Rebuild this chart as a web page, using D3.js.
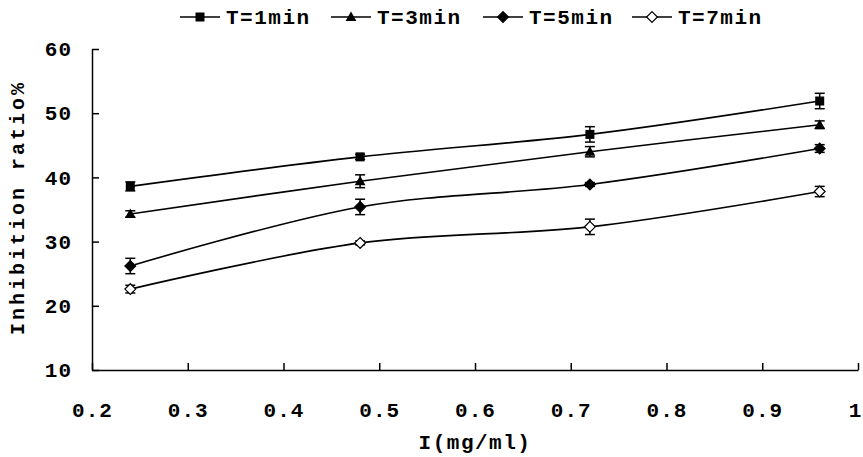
<!DOCTYPE html>
<html>
<head>
<meta charset="utf-8">
<script src="https://cdn.jsdelivr.net/npm/d3@7"></script>
<style>
  body { margin: 0; background: #fff; }
  svg { display: block; }
  text { font-family: "Liberation Mono", "Courier New", monospace; font-weight: bold; fill: #000; }
</style>
</head>
<body>
<div id="chart"></div>
<script>
// concentrations (mg/ml)
const conc = [0.24, 0.48, 0.72, 0.96];
const seriesNames = ['T=1min', 'T=3min', 'T=5min', 'T=7min'];
const markerKinds = ['square', 'triangle', 'diamond', 'diamondOpen'];

// inhibition ratio (%) and error bars
const t1 = [38.6, 43.2, 46.7, 51.9];
const t1Err = [0.7, 0.4, 1.2, 1.2];
const t3 = [34.3, 39.4, 44.0, 48.2];
const t3Err = [0.5, 1.0, 0.8, 0.6];
const t5 = [26.2, 35.4, 38.9, 44.5];
const t5Err = [1.2, 1.2, 0.3, 0.6];
const t7 = [22.6, 29.8, 32.3, 37.8];
const t7Err = [0.6, 0.3, 1.2, 0.8];

const xTicks = [0.2, 0.3, 0.4, 0.5, 0.6, 0.7, 0.8, 0.9, 1];
const yTicks = [10, 20, 30, 40, 50, 60];

const seriesVals = [t1, t3, t5, t7];
const seriesErr = [t1Err, t3Err, t5Err, t7Err];
const series = seriesNames.map((name, i) => ({
  name, kind: markerKinds[i],
  points: conc.map((c, j) => ({x: c, y: seriesVals[i][j], e: seriesErr[i][j]}))
}));

const W = 863, H = 457;
const margin = {top: 49, right: 5, bottom: 87, left: 92};

const svg = d3.select('#chart').append('svg')
  .attr('width', W).attr('height', H);

const x = d3.scaleLinear().domain([0.2, 1]).range([margin.left, 858]);
const y = d3.scaleLinear().domain([10, 60]).range([370, margin.top]);

// axes (ticks pointing inward, labels placed manually)
const fmt = d3.format('~g');
const xAxis = svg.append('g')
  .attr('transform', `translate(0,${y(10)})`)
  .call(d3.axisBottom(x).tickValues(xTicks).tickSizeInner(-7).tickSizeOuter(0).tickFormat(fmt));
xAxis.selectAll('text').attr('y', 32).style('font-size', '21px').style('letter-spacing', '1px')
  .attr('dx', d => d === 1 ? -3 : 0);

const yAxis = svg.append('g')
  .attr('transform', `translate(${x(0.2)},0)`)
  .call(d3.axisLeft(y).tickValues(yTicks).tickSizeInner(-7).tickSizeOuter(0));
yAxis.selectAll('text').attr('x', -20).style('font-size', '21px').style('letter-spacing', '1px');

svg.selectAll('.domain, .tick line').attr('stroke', '#000').attr('stroke-width', 1.5);

// axis titles
svg.append('text')
  .attr('x', x(0.6)).attr('y', 449)
  .attr('text-anchor', 'middle')
  .style('font-size', '21px').style('letter-spacing', '1.5px')
  .text('I(mg/ml)');

svg.append('text')
  .attr('transform', `translate(24,${y(35) - 2}) rotate(-90)`)
  .attr('text-anchor', 'middle')
  .style('font-size', '20px').style('letter-spacing', '3px')
  .text('Inhibition ratio%');

// marker drawing
function drawMarker(g, kind, cx, cy, s) {
  if (kind === 'square') {
    g.append('rect').attr('x', cx - s / 2).attr('y', cy - s / 2)
      .attr('width', s).attr('height', s).attr('fill', '#000');
  } else if (kind === 'triangle') {
    g.append('path').attr('d', `M${cx},${cy - s * 0.6}L${cx + s * 0.6},${cy + s * 0.45}L${cx - s * 0.6},${cy + s * 0.45}Z`)
      .attr('fill', '#000');
  } else {
    const r = s * 0.6;
    g.append('path').attr('d', `M${cx},${cy - r}L${cx + r},${cy}L${cx},${cy + r}L${cx - r},${cy}Z`)
      .attr('fill', kind === 'diamondOpen' ? '#fff' : '#000')
      .attr('stroke', '#000').attr('stroke-width', 1.2);
  }
}

const line = d3.line()
  .x(d => x(d.x)).y(d => y(d.y))
  .curve(d3.curveCatmullRom.alpha(0.5));

const plot = svg.append('g');
series.forEach(s => {
  plot.append('path').datum(s.points)
    .attr('fill', 'none').attr('stroke', '#000').attr('stroke-width', 1.6)
    .attr('d', line);

  const g = plot.append('g');
  s.points.forEach(p => {
    const cx = x(p.x);
    g.append('line').attr('x1', cx).attr('x2', cx)
      .attr('y1', y(p.y - p.e)).attr('y2', y(p.y + p.e))
      .attr('stroke', '#000').attr('stroke-width', 1.5);
    [p.y - p.e, p.y + p.e].forEach(v => {
      g.append('line').attr('x1', cx - 5).attr('x2', cx + 5)
        .attr('y1', y(v)).attr('y2', y(v))
        .attr('stroke', '#000').attr('stroke-width', 1.5);
    });
    drawMarker(g, s.kind, cx, y(p.y), 9);
  });
});

// legend
const legendX = [180, 331, 483, 632];
const legend = svg.append('g');
series.forEach((s, i) => {
  const lx = legendX[i], ly = 17;
  legend.append('line').attr('x1', lx).attr('x2', lx + 40)
    .attr('y1', ly).attr('y2', ly).attr('stroke', '#000').attr('stroke-width', 1.6);
  drawMarker(legend, s.kind, lx + 20, ly, 9);
  legend.append('text').attr('x', lx + 46).attr('y', ly + 7)
    .style('font-size', '21px').style('letter-spacing', '1.5px')
    .text(s.name);
});
</script>
</body>
</html>
